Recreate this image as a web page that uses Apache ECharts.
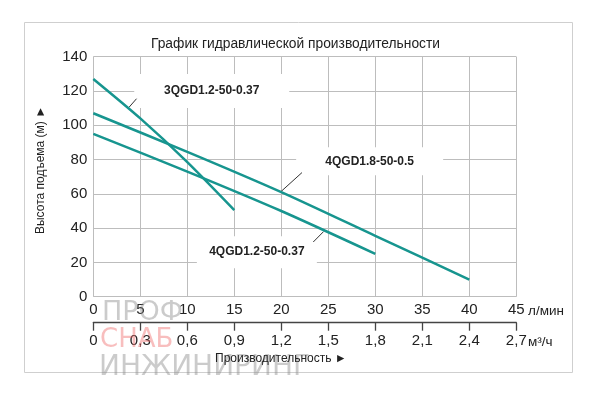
<!DOCTYPE html>
<html><head><meta charset="utf-8">
<script src="https://cdn.jsdelivr.net/npm/echarts@6/dist/echarts.min.js"></script>
<style>html,body{margin:0;padding:0;background:#fff}#c{width:600px;height:397px}</style>
</head><body><div id="c"></div>
<script>
// Data (flow in л/мин, head in м)
const flowTickLabels = ['0','5','10','15','20','25','30','35','40','45'];
const m3TickLabels = ['0','0,3','0,6','0,9','1,2','1,5','1,8','2,1','2,4','2,7'];
const headTickLabels = ['0','20','40','60','80','100','120','140'];
const curve3QGD12 = [[0,127],[5,104],[10,78.5],[15,50.5]];
const curve4QGD18 = [[0,107],[10,84.5],[20,61],[30,35.5],[40,10]];
const curve4QGD12 = [[0,95],[10,73],[20,50],[30,25]];
const seriesNames = ['3QGD1.2-50-0.37','4QGD1.8-50-0.5','4QGD1.2-50-0.37'];
// label anchor (data coords) and leader lines (data coords)
const labelAnchors = [[12.6,120],[29.4,79],[17.4,26]];
const leaderLines = [
  [[3.8,110.5],[4.6,115.5]],
  [[19.9,61],[22.2,72.4]],
  [[24.5,38],[23.4,31.9]]
];

const FONT = '"Liberation Sans", Arial, sans-serif';
const TEAL = '#17958f';
const chart = echarts.init(document.getElementById('c'), null, {renderer:'canvas'});
const boxSizes = [[155,34],[147,28],[120,32]];

function mkSeries(i, data){
  return {
    name: seriesNames[i], type:'line', data, xAxisIndex:0, yAxisIndex:0,
    smooth:0.25, symbol:'none', lineStyle:{color:TEAL,width:2.5}, z:5,
    markPoint:{
      symbol:'rect', symbolSize:boxSizes[i], silent:true, z:3,
      itemStyle:{color:'#fff'},
      label:{show:true, position:'inside', formatter:seriesNames[i], color:'#222',
        fontFamily:FONT, fontWeight:'bold', fontSize:12},
      data:[{coord:labelAnchors[i]}]
    },
    markLine:{
      silent:true, symbol:'none', label:{show:false},
      lineStyle:{color:'#333',width:1,type:'solid'},
      data:[[{coord:leaderLines[i][0]},{coord:leaderLines[i][1]}]]
    }
  };
}

const WM = '"DejaVu Sans", sans-serif';
chart.setOption({
  backgroundColor:'#fff',
  animation:false,
  title:{text:'График гидравлической производительности', left:146, top:32,
    textStyle:{fontFamily:FONT, fontSize:13.8, fontWeight:'normal', color:'#222'}},
  grid:{left:93.3, right:83.7, top:56.7, bottom:100.3},
  xAxis:[{
    type:'value', min:0, max:45, interval:5, position:'bottom',
    axisLine:{show:false}, axisTick:{show:false},
    splitLine:{show:true, lineStyle:{color:'#bdbdbd', width:1}},
    axisLabel:{margin:6, fontSize:15, color:'#222', fontFamily:FONT,
      formatter:(v)=>flowTickLabels[Math.round(v/5)]}
  },{
    type:'value', min:0, max:45, interval:5, position:'bottom', offset:26,
    axisLine:{show:true, lineStyle:{color:'#444', width:1.3}},
    axisTick:{show:true, length:8, inside:false, lineStyle:{color:'#444', width:1.3}},
    splitLine:{show:false},
    axisLabel:{margin:11, fontSize:15, color:'#222', fontFamily:FONT,
      formatter:(v)=>m3TickLabels[Math.round(v/5)]}
  }],
  yAxis:{
    type:'value', min:0, max:140, interval:20,
    axisLine:{show:false}, axisTick:{show:false},
    splitLine:{show:true, lineStyle:{color:'#bdbdbd', width:1}},
    axisLabel:{margin:6, fontSize:15, color:'#222', fontFamily:FONT,
      formatter:(v)=>headTickLabels[Math.round(v/20)]}
  },
  graphic:[
    {type:'rect', left:24, top:22, z:-10, shape:{width:548, height:350},
      style:{fill:'#fff', stroke:'#cfcfcf', lineWidth:1}},
    {type:'text', x:41, y:170, rotation:Math.PI/2, z:10,
      style:{text:'Высота подъема (м) ►', fontFamily:FONT, fontSize:12, fill:'#222',
        textAlign:'center', textVerticalAlign:'middle'}},
    {type:'text', x:215, y:359, z:10,
      style:{text:'Производительность ►', fontFamily:FONT, fontSize:12, fill:'#222',
        textAlign:'left', textVerticalAlign:'middle'}},
    {type:'text', x:528, y:311, z:10,
      style:{text:'л/мин', fontFamily:FONT, fontSize:13.5, fill:'#222',
        textAlign:'left', textVerticalAlign:'middle'}},
    {type:'text', x:528, y:342, z:10,
      style:{text:'м³/ч', fontFamily:FONT, fontSize:13.5, fill:'#222',
        textAlign:'left', textVerticalAlign:'middle'}},
    {type:'text', x:102, y:313, z:1,
      style:{text:'ПРОФ', fontFamily:WM, fontSize:27, fill:'rgba(140,140,140,0.45)',
        textAlign:'left', textVerticalAlign:'middle'}},
    {type:'text', x:100, y:340, z:1,
      style:{text:'СНАБ', fontFamily:WM, fontSize:26, fill:'rgba(240,110,110,0.45)',
        textAlign:'left', textVerticalAlign:'middle'}},
    {type:'text', x:99, y:368, z:1,
      style:{text:'ИНЖИНИРИНГ', fontFamily:WM, fontSize:28, fill:'rgba(140,140,140,0.45)',
        textAlign:'left', textVerticalAlign:'middle'}}
  ],
  series:[mkSeries(0,curve3QGD12), mkSeries(1,curve4QGD18), mkSeries(2,curve4QGD12)]
});
</script></body></html>
